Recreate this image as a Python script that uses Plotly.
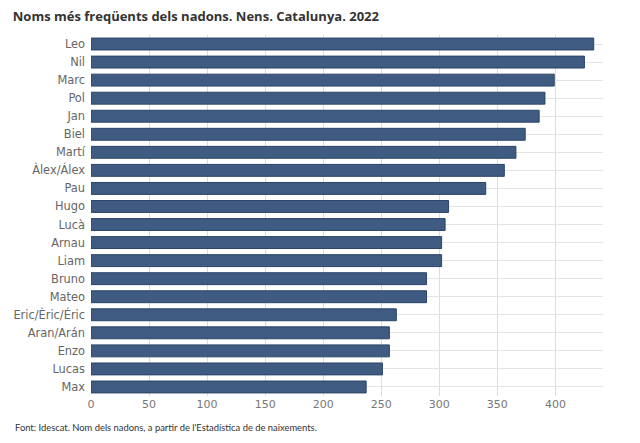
import plotly.graph_objects as go

names = ["Leo", "Nil", "Marc", "Pol", "Jan", "Biel", "Martí", "Àlex/Álex", "Pau", "Hugo",
         "Lucà", "Arnau", "Liam", "Bruno", "Mateo", "Eric/Èric/Éric", "Aran/Arán", "Enzo", "Lucas", "Max"]
values = [433, 425, 399, 391, 386, 374, 366, 356, 340, 308,
          305, 302, 302, 289, 289, 263, 257, 257, 251, 237]
xticks = [0, 50, 100, 150, 200, 250, 300, 350, 400]

fig = go.Figure(go.Bar(
    x=values, y=names, orientation="h",
    marker=dict(color="#3f5b82", line=dict(color="#2c4568", width=1)),
    width=0.66,
    hoverinfo="x+y",
))

fig.update_layout(
    width=640, height=443,
    margin=dict(l=91, r=37, t=35, b=47),
    paper_bgcolor="white", plot_bgcolor="white",
    showlegend=False,
    title=dict(text="<b>Noms més freqüents dels nadons. Nens. Catalunya. 2022</b>",
               x=0.02, xanchor="left", y=0.963, yanchor="middle",
               font=dict(family="Open Sans", size=13, color="#333333")),
    xaxis=dict(range=[0, 441], tickvals=xticks, showgrid=True, gridcolor="#dddddd",
               gridwidth=1, zeroline=False, showline=False, ticks="",
               tickfont=dict(family="DejaVu Sans", size=11, color="#777777")),
    yaxis=dict(autorange="reversed", showgrid=True, gridcolor="#e4e4e4",
               showline=False, ticks="", ticklabelstandoff=5,
               tickfont=dict(family="DejaVu Sans", size=11.4, color="#666666")),
    annotations=[dict(text="Font: Idescat. Nom dels nadons, a partir de l'Estadística de de naixements.",
                      xref="paper", yref="paper", x=-0.152, y=-0.086, xanchor="left", yanchor="middle",
                      showarrow=False, font=dict(family="Lato", size=9.4, color="#333333"))],
)

fig.write_html("out.html", config={"displayModeBar": False},
               post_script="document.body.style.margin='0';")
